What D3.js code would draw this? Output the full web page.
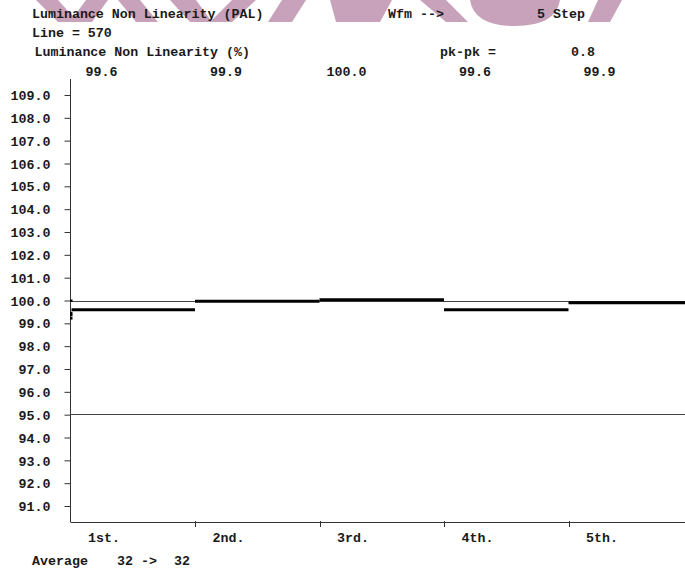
<!DOCTYPE html>
<html>
<head>
<meta charset="utf-8">
<script src="https://cdn.jsdelivr.net/npm/d3@7"></script>
<style>
  html, body { margin: 0; padding: 0; background: #fff; }
  svg text { font-family: "Liberation Mono", "Courier New", monospace; font-weight: bold; font-size: 13.3px; fill: #1a1a1a; }
</style>
</head>
<body>
<svg id="chart" width="685" height="571"></svg>
<script>
// ---- data ----
const categories = ["1st.", "2nd.", "3rd.", "4th.", "5th."];
const stepValues = [99.6, 99.97, 100.03, 99.59, 99.9];
const stepLabels = ["99.6", "99.9", "100.0", "99.6", "99.9"];
const yTicks = [91, 92, 93, 94, 95, 96, 97, 98, 99, 100, 101, 102, 103, 104, 105, 106, 107, 108, 109];
const referenceLines = [100.0, 95.05];
const sampleDots = [100.0, 99.46, 99.37, 99.23];
const headerTexts = [
  ["Luminance Non Linearity (PAL)", 32, 18],
  ["Wfm -->", 388, 18],
  ["5 Step", 537, 18],
  ["Line = 570", 32, 37],
  ["Luminance Non Linearity (%)", 34.5, 56],
  ["pk-pk =", 440, 56],
  ["0.8", 571, 56],
  ["Average", 32, 565],
  ["32 ->", 117, 565],
  ["32", 174, 565]
];

const svg = d3.select("#chart");
svg.append("rect").attr("width", 685).attr("height", 571).attr("fill", "#fff");

// watermark fragments (mauve) at the top edge
const wm = svg.append("g").attr("fill", "#c7a2ba");
const wmShapes = [
  [[36,0],[58,0],[78,22],[58,22]],
  [[86,0],[108,0],[92,22],[70,22]],
  [[118,0],[140,0],[158,22],[136,22]],
  [[170,0],[196,0],[212,22],[190,22]],
  [[232,0],[256,0],[232,22],[210,22]],
  [[282,0],[306,0],[292,22],[268,22]],
  [[330,0],[392,0],[380,22],[336,22]],
  [[420,0],[446,0],[468,22],[446,22]],
  [[598,0],[622,0],[610,22],[588,22]]
];
wmShapes.forEach(p => wm.append("polygon").attr("points", p.map(d => d.join(",")).join(" ")));
wm.append("path").attr("d", "M470,0 L560,0 Q556,26 515,26 Q474,26 470,0 Z");

// scales
const x = d3.scaleBand().domain(categories).range([70.5, 70.5 + 5 * 124.5]).padding(0);
const y = d3.scaleLinear().domain([90.3, 109.7]).range([522, 79]);

// y axis
const yAxis = d3.axisLeft(y).tickValues(yTicks).tickFormat(d3.format(".1f")).tickSize(6).tickSizeOuter(0).tickPadding(14);
const gy = svg.append("g").attr("transform", "translate(70.5,0)").call(yAxis);
gy.select(".domain").attr("stroke", "#333").attr("d", "M0,79V522");
gy.selectAll(".tick line").attr("stroke", "#333");
gy.selectAll(".tick text").attr("dy", "0.35em").style("font-family", null).style("font-size", null).attr("font-family", null).attr("font-size", null);

// x axis line and category boundary ticks
svg.append("line").attr("x1", 70.5).attr("x2", 685).attr("y1", 522.5).attr("y2", 522.5).attr("stroke", "#333");
svg.selectAll("line.xtick").data(categories.slice(1)).enter().append("line")
  .attr("class", "xtick")
  .attr("x1", d => Math.round(x(d)) + 0.5).attr("x2", d => Math.round(x(d)) + 0.5)
  .attr("y1", 521).attr("y2", 527).attr("stroke", "#333");

// category labels
svg.selectAll("text.cat").data(categories).enter().append("text")
  .attr("class", "cat").attr("x", d => x(d) + 17.5).attr("y", 542).text(d => d);

// value labels at top (right aligned)
svg.selectAll("text.val").data(stepLabels).enter().append("text")
  .attr("class", "val").attr("text-anchor", "end")
  .attr("x", (d, i) => x(categories[i]) + 47).attr("y", 76).text(d => d);

// reference lines
svg.selectAll("line.ref").data(referenceLines).enter().append("line")
  .attr("class", "ref").attr("x1", 70.5).attr("x2", 685)
  .attr("y1", d => Math.round(y(d)) + 0.5).attr("y2", d => Math.round(y(d)) + 0.5)
  .attr("stroke", "#444").attr("stroke-width", 1);

// step bars
svg.selectAll("line.step").data(stepValues).enter().append("line")
  .attr("class", "step")
  .attr("x1", (d, i) => x(categories[i]) + (i === 0 ? 1 : 0))
  .attr("x2", (d, i) => Math.min(685, x(categories[i]) + x.bandwidth()))
  .attr("y1", d => y(d)).attr("y2", d => y(d))
  .attr("stroke", "#000").attr("stroke-width", 3);

// sample dots at the axis
svg.selectAll("rect.dot").data(sampleDots).enter().append("rect")
  .attr("class", "dot").attr("x", 70).attr("y", d => y(d) - 1)
  .attr("width", 2.5).attr("height", 2.5).attr("fill", "#000");

// header / footer texts
svg.selectAll("text.hdr").data(headerTexts).enter().append("text")
  .attr("class", "hdr").attr("x", d => d[1]).attr("y", d => d[2]).text(d => d[0]);
</script>
</body>
</html>
